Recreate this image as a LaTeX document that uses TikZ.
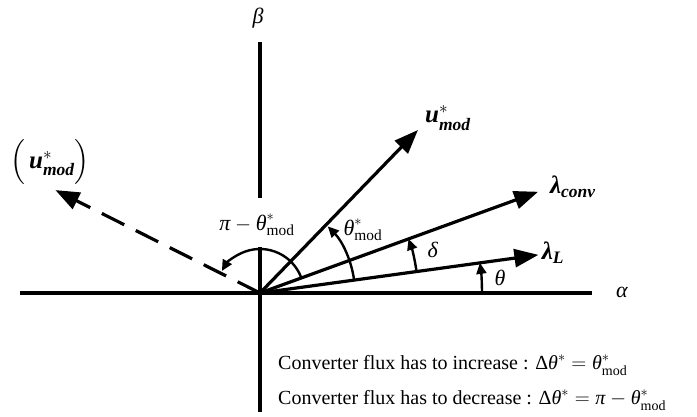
\documentclass[tikz,border=0pt]{standalone}
\usepackage{amsmath,amssymb}
\usepackage{fontspec}
\setmainfont{Liberation Serif}
\usetikzlibrary{arrows.meta, positioning, calc}

\newcommand{\itg}[1]{\textit{#1}}
\newcommand{\bfi}[1]{\textbf{\textit{#1}}}

\tikzset{
  axis/.style={line width=3.2pt},
  vec/.style={line width=3.2pt, -{Triangle[length=24pt,width=18pt]}},
  angarc/.style={line width=2.4pt, -{Triangle[length=11pt,width=10pt]}},
  lbl/.style={inner sep=0pt, font=\fontsize{22}{26}\selectfont},
  vlbl/.style={inner sep=0pt, font=\fontsize{25}{30}\selectfont},
  note/.style={inner sep=0pt, font=\fontsize{20}{24}\selectfont},
}

\begin{document}
\begin{tikzpicture}[x=1pt,y=1pt]
  \useasboundingbox (-260,-124) rectangle (437,293);
  \coordinate (O) at (0,0);

  % axes
  \coordinate (aW) at (-240,0);
  \coordinate (aE) at (332,0);
  \coordinate (bN) at (0,251);
  \coordinate (bNg) at (0,95);
  \coordinate (bSg) at (0,46);
  \coordinate (bS) at (0,-119);
  \draw[axis] (aW) -- (aE);
  \draw[axis] (bN) -- (bNg);
  \draw[axis] (bSg) -- (bS);
  \node[lbl] (alpha) at (362,1) {\itg{α}};
  \node[lbl] (beta) at (-2,275) {\itg{β}};

  % vectors
  \coordinate (uM) at (45.9:227);
  \coordinate (lC) at (20:296);
  \coordinate (lL) at (7.8:281);
  \coordinate (uN) at (153.3:229);
  \draw[vec] (O) -- (lL);
  \draw[vec] (O) -- (lC);
  \draw[vec] (O) -- (uM);
  \draw[vec, dash pattern=on 25pt off 13pt] (O) -- (uN);

  \node[vlbl] (uMl) at (188,175) {$\bfi{u}^{*}_{\bfi{mod}}$};
  \node[vlbl] (lCl) at (313,106) {$\bfi{λ}_{\bfi{conv}}$};
  \node[vlbl] (lLl) at (293,40) {$\bfi{λ}_{\bfi{L}}$};
  \node[vlbl] (uNl) at (-210,131) {$\Bigl(\,\bfi{u}^{*}_{\bfi{mod}}\Bigr)$};

  % angles
  \draw[angarc] (0:222) arc[start angle=0, end angle=7.8, radius=222];
  \draw[angarc] (7.8:158) arc[start angle=7.8, end angle=20, radius=158];
  \draw[angarc] (7.8:95) arc[start angle=7.8, end angle=44.5, radius=95];
  \draw[angarc] (20:44) arc[start angle=20, end angle=150, radius=44];
  \node[lbl] (th) at (240,15) {\itg{θ}};
  \node[lbl] (de) at (173,43) {\itg{δ}};
  \node[lbl] (thm) at (103,63) {$\itg{θ}^{*}_{\textup{mod}}$};
  \node[lbl] (pim) at (-3,68) {$\itg{π}-\itg{θ}^{*}_{\textup{mod}}$};

  % notes
  \node[note, anchor=base west] (inc) at (18,-77) {Converter flux has to increase : $\textup{Δ}\itg{θ}^{*}=\itg{θ}^{*}_{\textup{mod}}$};
  \node[note, anchor=base west] (dec) at ($(inc.base west)+(0,-35)$) {Converter flux has to decrease : $\textup{Δ}\itg{θ}^{*}=\itg{π}-\itg{θ}^{*}_{\textup{mod}}$};
\end{tikzpicture}
\end{document}
